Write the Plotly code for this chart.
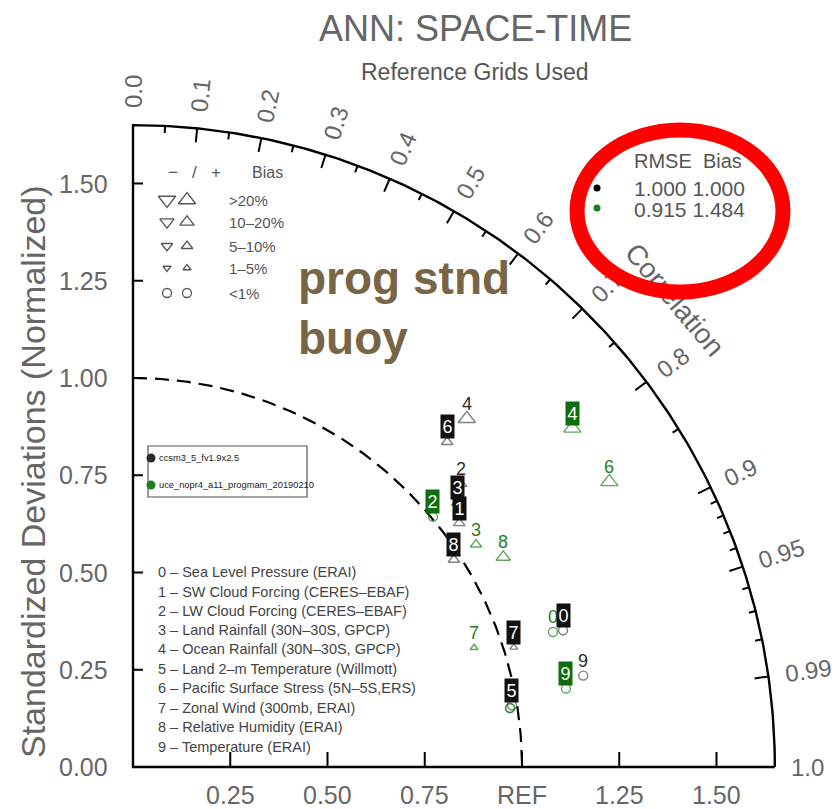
import numpy as np
import plotly.graph_objects as go

# ---------------- data ----------------
VAR_IDS = ["0", "1", "2", "3", "4", "5", "6", "7", "8", "9"]
VAR_NAMES = [
    "Sea Level Pressure (ERAI)",
    "SW Cloud Forcing (CERES-EBAF)",
    "LW Cloud Forcing (CERES-EBAF)",
    "Land Rainfall (30N-30S, GPCP)",
    "Ocean Rainfall (30N-30S, GPCP)",
    "Land 2-m Temperature (Willmott)",
    "Pacific Surface Stress (5N-5S,ERS)",
    "Zonal Wind (300mb, ERAI)",
    "Relative Humidity (ERAI)",
    "Temperature (ERAI)",
]
CASE_NAMES = ["ccsm3_5_fv1.9x2.5", "uce_nopr4_a11_progmam_20190210"]
CASE_RMSE = ["1.000", "0.915"]
CASE_BIAS = ["1.000", "1.484"]

# case 1 (black)
RATIO_CASE1 = [1.160, 1.047, 1.114, 1.075, 1.240, 0.987, 1.162, 1.026, 0.982, 1.181]
CORR_CASE1 = [0.953, 0.801, 0.757, 0.775, 0.692, 0.987, 0.695, 0.954, 0.840, 0.980]
BIAS_CASE1 = ["<1%", "5-10%", "5-10%", "5-10%", ">20%", "<1%", "5-10%", "1-5%", "5-10%", "<1%"]
# label style: 1 = boxed, 0 = plain, -1 = concealed under another label
LABEL_CASE1 = [1, 1, 0, 1, 0, 1, 1, 1, 1, 0]

# case 2 (green)
RATIO_CASE2 = [1.134, 0.981, 1.004, 1.051, 1.426, 0.981, 1.427, 0.929, 1.094, 1.131]
CORR_CASE2 = [0.952, 0.988, 0.768, 0.839, 0.792, 0.988, 0.858, 0.944, 0.870, 0.984]
BIAS_CASE2 = ["<1%", "<1%", "<1%", "5-10%", ">20%", "<1%", ">20%", "1-5%", "10-20%", "<1%"]
LABEL_CASE2 = [0, -1, 1, 0, 1, -1, 0, 0, 0, 1]

CORR_LABEL_VALUES = [0.0, 0.1, 0.2, 0.3, 0.4, 0.5, 0.6, 0.7, 0.8, 0.9, 0.95, 0.99, 1.0]
CORR_LABELS = ["0.0", "0.1", "0.2", "0.3", "0.4", "0.5", "0.6", "0.7", "0.8", "0.9", "0.95", "0.99", "1.0"]
CORR_MAJOR = [0.1, 0.2, 0.3, 0.4, 0.5, 0.6, 0.7, 0.8, 0.9, 0.95, 0.99]
CORR_MINOR = [0.05, 0.15, 0.25, 0.35, 0.45, 0.55, 0.65, 0.75, 0.85,
              0.91, 0.92, 0.93, 0.94, 0.96, 0.97, 0.98]
STD_TICKS = [0.25, 0.50, 0.75, 1.00, 1.25, 1.50]
STD_LEFT_VALUES = [0.0, 0.25, 0.50, 0.75, 1.00, 1.25, 1.50]
STD_LEFT_LABELS = ["0.00", "0.25", "0.50", "0.75", "1.00", "1.25", "1.50"]
STD_BOTTOM_LABELS = ["0.25", "0.50", "0.75", "REF", "1.25", "1.50"]
BIAS_CLASSES = [">20%", "10-20%", "5-10%", "1-5%", "<1%"]
RMAX = 1.65

# ---------------- styles ----------------
FONT = "Liberation Sans"
BLACK = "#2b2b2b"
GREEN = "#1f7f1f"
GREEN_BOX = "#0e6e0e"
CASE_COLORS = [BLACK, GREEN]
CASE_BOX = ["#111111", GREEN_BOX]
SIZE_OF = {">20%": 15, "10-20%": 12.5, "5-10%": 10, "1-5%": 7, "<1%": 9}

S = 389.0
OX, OY = 133.0, 767.0
W, H = 840, 809


def dx(px):
    return (px - OX) / S


def dy(py):
    return (OY - py) / S


fig = go.Figure()

# frame: bottom axis, left axis, outer arc
th = np.linspace(np.pi / 2, 0, 200)
fx = [RMAX, 0, 0] + list(RMAX * np.cos(th))
fy = [0, 0, RMAX] + list(RMAX * np.sin(th))
fig.add_trace(go.Scatter(x=fx, y=fy, mode="lines", line=dict(color="black", width=2.4),
                         hoverinfo="skip"))

# reference arc (dashed)
fig.add_trace(go.Scatter(x=list(np.cos(th)), y=list(np.sin(th)), mode="lines",
                         line=dict(color="black", width=2.2, dash="14px,8px"), hoverinfo="skip"))

# ticks
tx, ty = [], []
for c in CORR_MAJOR:
    a = np.arccos(c)
    r0 = RMAX - 14 / S
    tx += [RMAX * np.cos(a), r0 * np.cos(a), None]
    ty += [RMAX * np.sin(a), r0 * np.sin(a), None]
for c in CORR_MINOR:
    a = np.arccos(c)
    r0 = RMAX - 7 / S
    tx += [RMAX * np.cos(a), r0 * np.cos(a), None]
    ty += [RMAX * np.sin(a), r0 * np.sin(a), None]
for v in STD_TICKS:
    tx += [0, 10 / S, None]
    ty += [v, v, None]
    tx += [v, v, None]
    ty += [0, 15 / S, None]
fig.add_trace(go.Scatter(x=tx, y=ty, mode="lines", line=dict(color="black", width=2),
                         hoverinfo="skip"))

# data markers
cases = [
    (RATIO_CASE2, CORR_CASE2, BIAS_CASE2, LABEL_CASE2, 1),
    (RATIO_CASE1, CORR_CASE1, BIAS_CASE1, LABEL_CASE1, 0),
]
label_annots = []
for ratio, corr, bias, lab, ci in cases:
    ratio = np.array(ratio)
    ang = np.arccos(np.array(corr))
    xs = ratio * np.cos(ang)
    ys = ratio * np.sin(ang)
    sym = ["circle-open" if b == "<1%" else "triangle-up-open" for b in bias]
    sz = [SIZE_OF[b] for b in bias]
    mcol = "#4a4a4a" if ci == 0 else GREEN
    fig.add_trace(go.Scatter(x=xs, y=ys, mode="markers",
                             marker=dict(symbol=sym, size=sz, color=mcol,
                                         line=dict(color=mcol, width=1.4)),
                             hoverinfo="skip"))
    for i in range(len(xs)):
        if lab[i] == 1:
            label_annots.append(dict(x=xs[i], y=ys[i], yshift=15, text=VAR_IDS[i], showarrow=False,
                                     font=dict(family=FONT, size=18, color="white"),
                                     bgcolor=CASE_BOX[ci], borderpad=1.5))
        elif lab[i] == 0:
            label_annots.append(dict(x=xs[i], y=ys[i], yshift=15, text=VAR_IDS[i], showarrow=False,
                                     font=dict(family=FONT, size=18, color=CASE_COLORS[ci])))

# bias legend symbols
leg_rows_py = [200, 222, 246, 268, 293]
for b, py in zip(BIAS_CLASSES, leg_rows_py):
    if b == "<1%":
        syms = ["circle-open", "circle-open"]
    else:
        syms = ["triangle-down-open", "triangle-up-open"]
    fig.add_trace(go.Scatter(x=[dx(167), dx(187)], y=[dy(py), dy(py)], mode="markers",
                             marker=dict(symbol=syms, size=SIZE_OF[b], color="#555",
                                         line=dict(color="#555", width=1.3)),
                             hoverinfo="skip"))

# case dots (model legend + RMSE table)
fig.add_trace(go.Scatter(x=[dx(151), dx(151)], y=[dy(458), dy(485)], mode="markers",
                         marker=dict(size=9, color=[BLACK, GREEN]), hoverinfo="skip"))
fig.add_trace(go.Scatter(x=[dx(597), dx(597)], y=[dy(188), dy(208)], mode="markers",
                         marker=dict(size=7, color=["black", GREEN]), hoverinfo="skip"))

annots = []
# titles
annots.append(dict(x=dx(475), y=dy(28), text="ANN: SPACE-TIME", showarrow=False,
                   font=dict(family=FONT, size=36, color="#666")))
annots.append(dict(x=dx(475), y=dy(72), text="Reference Grids Used", showarrow=False,
                   font=dict(family=FONT, size=23, color="#555")))
annots.append(dict(x=dx(33), y=dy(472), text="Standardized Deviations (Normalized)", showarrow=False,
                   textangle=-90, font=dict(family=FONT, size=34, color="#666")))

# std labels
for v, t in zip(STD_LEFT_VALUES, STD_LEFT_LABELS):
    annots.append(dict(x=dx(110), y=v, text=t, showarrow=False, xanchor="right",
                       font=dict(family=FONT, size=25, color="#666")))
for v, t in zip(STD_TICKS, STD_BOTTOM_LABELS):
    annots.append(dict(x=v, y=dy(795), text=t, showarrow=False,
                       font=dict(family=FONT, size=25, color="#666")))

# correlation labels (0.7 drawn as shape label so the red ring covers it)
for c, t in zip(CORR_LABEL_VALUES, CORR_LABELS):
    if t == "0.7":
        continue
    a = np.arccos(c)
    rr = 1.735 if len(t) == 3 else 1.755
    annots.append(dict(x=rr * np.cos(a), y=rr * np.sin(a), text=t, showarrow=False,
                       textangle=-np.degrees(a), xanchor="center", yanchor="middle",
                       font=dict(family=FONT, size=24, color="#666")))

# bias legend texts
NB = "\u00a0"
annots.append(dict(x=dx(194), y=dy(172), text="\u2212" + NB * 3 + "/" + NB * 3 + "+", showarrow=False,
                   font=dict(family=FONT, size=17, color="#555")))
annots.append(dict(x=dx(250), y=dy(172), text="Bias", showarrow=False, xanchor="left",
                   font=dict(family=FONT, size=16, color="#555")))
for b, py in zip(BIAS_CLASSES, leg_rows_py):
    annots.append(dict(x=dx(227), y=dy(py), text=b.replace("-", "\u2013"), showarrow=False,
                       xanchor="left", font=dict(family=FONT, size=15, color="#555")))

# model legend texts
for name, py in zip(CASE_NAMES, [458, 485]):
    annots.append(dict(x=dx(157), y=dy(py), text=name, showarrow=False, xanchor="left",
                       font=dict(family=FONT, size=9.3, color="#222")))

# variable list
var_rows_py = [572, 592, 611, 630, 649, 669, 688, 708, 727, 747]
for vid, nm, py in zip(VAR_IDS, VAR_NAMES, var_rows_py):
    annots.append(dict(x=dx(156), y=dy(py), text=vid + " \u2013 " + nm.replace("-", "\u2013"),
                       showarrow=False, xanchor="left",
                       font=dict(family=FONT, size=14.5, color="#444")))

# RMSE / Bias table
annots.append(dict(x=dx(632), y=dy(161), text="RMSE  Bias", showarrow=False, xanchor="left",
                   font=dict(family=FONT, size=20, color="#555")))
for rm, bi, py in zip(CASE_RMSE, CASE_BIAS, [188, 209]):
    annots.append(dict(x=dx(632), y=dy(py), text=rm + " " + bi, showarrow=False, xanchor="left",
                       font=dict(family=FONT, size=21, color="#555")))

# overlay text
annots.append(dict(x=dx(296), y=dy(250), text="<b>prog stnd<br>buoy</b>", showarrow=False,
                   xanchor="left", yanchor="top", align="left",
                   font=dict(family=FONT, size=46, color="#776545")))

shapes = []
# model legend box
shapes.append(dict(type="rect", xref="x", yref="y", x0=dx(148), x1=dx(307), y0=dy(497), y1=dy(446),
                   line=dict(color="#555", width=1.2), layer="below"))
# labels under the red ring (as shape labels so the ring overlays them)
a7 = np.arccos(0.7)
cx7, cy7 = 1.735 * np.cos(a7), 1.735 * np.sin(a7)
e = 0.001
shapes.append(dict(type="rect", xref="x", yref="y", x0=cx7 - e, x1=cx7 + e, y0=cy7 - e, y1=cy7 + e,
                   line=dict(width=0), fillcolor="rgba(0,0,0,0)", layer="above",
                   label=dict(text="0.7", textangle=-np.degrees(a7), textposition="middle center",
                              xanchor="center", yanchor="middle", padding=0,
                              font=dict(family=FONT, size=24, color="#666"))))
ccx, ccy = dx(677), dy(298)
shapes.append(dict(type="rect", xref="x", yref="y", x0=ccx - e, x1=ccx + e, y0=ccy - e, y1=ccy + e,
                   line=dict(width=0), fillcolor="rgba(0,0,0,0)", layer="above",
                   label=dict(text="Correlation", textangle=50, textposition="middle center",
                              xanchor="center", yanchor="middle", padding=0,
                              font=dict(family=FONT, size=28, color="#666"))))
# red ring
shapes.append(dict(type="circle", xref="x", yref="y", x0=dx(577), x1=dx(783), y0=dy(292), y1=dy(130),
                   line=dict(color="#ff0000", width=15), fillcolor="rgba(0,0,0,0)", layer="above"))

fig.update_layout(
    width=W, height=H,
    margin=dict(l=0, r=0, t=0, b=0),
    paper_bgcolor="white", plot_bgcolor="white",
    showlegend=False,
    xaxis=dict(range=[dx(0), dx(W)], visible=False, fixedrange=True),
    yaxis=dict(range=[dy(H), dy(0)], visible=False, fixedrange=True),
    annotations=annots + label_annots,
    shapes=shapes,
)

fig.write_html("out.html", config={"displayModeBar": False},
               post_script="document.body.style.margin='0';document.body.style.overflow='hidden';")
